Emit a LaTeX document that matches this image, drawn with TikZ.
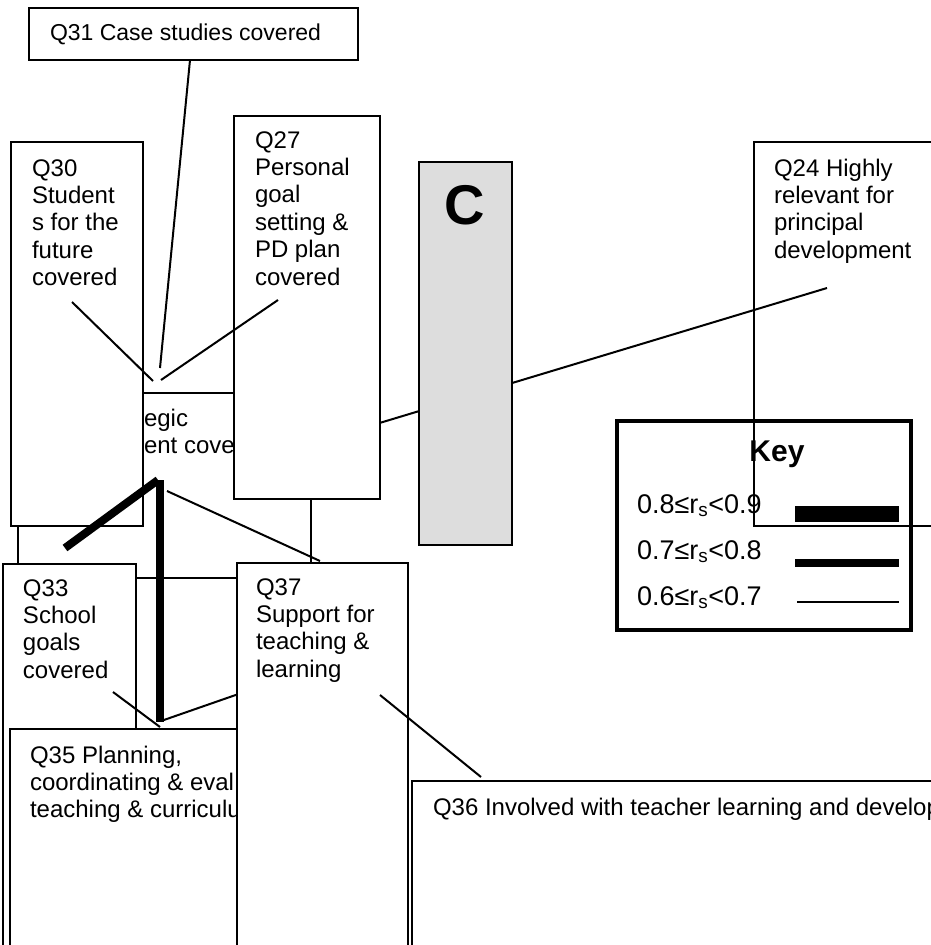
\documentclass[tikz,border=0pt]{standalone}
\usepackage{fontspec}
\setmainfont{Liberation Sans}
\definecolor{cfill}{HTML}{DDDDDD}
\newcommand\ml[1]{\begin{tabular}[t]{@{}l@{}}#1\end{tabular}}
\begin{document}
\begin{tikzpicture}[x=1pt,y=-1pt,
  box/.style={draw, line width=1.5pt, fill=white, inner sep=0pt, outer sep=0pt, anchor=north west},
  txt/.style={inner sep=0pt, outer sep=0pt, anchor=base west, font=\fontsize{24}{27.4}\selectfont},
  keytxt/.style={txt, font=\fontsize{27}{30}\selectfont},
  rthin/.style={line width=2pt},
  rmid/.style={line width=8pt},
  rthick/.style={line width=16pt}]
\useasboundingbox (0,0) rectangle (931,945);
\clip (0,0) rectangle (931,945);
% hidden strategic box
\node[box, minimum width=293pt, minimum height=185pt] (strat) at (18,393) {};
\node[txt] (strat1) at (144,426) {egic};
\node[txt] (strat2) at (144,453) {ent cove};
% line from strategic box to Q24 (hidden behind Q27 and C)
\coordinate (s24) at (300,447);
\coordinate (q24a) at (827,288);
\draw[rthin] (s24) -- (q24a);
% upper boxes
\node[box, minimum width=132pt, minimum height=384pt] (q30) at (11,142) {};
\node[txt] (q30t) at (32,176) {\ml{Q30\\Student\\s for the\\future\\covered}};
\node[box, minimum width=146pt, minimum height=383pt] (q27) at (234,116) {};
\node[txt] (q27t) at (255,148) {\ml{Q27\\Personal\\goal\\setting \&\\PD plan\\covered}};
\node[box, minimum width=329pt, minimum height=52pt] (q31) at (29,8) {};
\node[txt, font=\fontsize{23}{27}\selectfont] (q31t) at (50,40) {Q31 Case studies covered};
% C box
\node[box, fill=cfill, minimum width=93pt, minimum height=383pt] (cbox) at (419,162) {};
\node[inner sep=0pt, anchor=base, font=\fontsize{56}{62}\selectfont\bfseries] (ctext) at (465,224) {C};
% key
\node[box, line width=4pt, minimum width=294pt, minimum height=209pt] (key) at (617,421) {};
\node[inner sep=0pt, anchor=base, font=\fontsize{30}{34}\selectfont\bfseries] (keyt) at (777,461) {Key};
\node[keytxt] (k1) at (637,513) {0.8≤r\textsubscript{s}<0.9};
\node[keytxt] (k2) at (637,559) {0.7≤r\textsubscript{s}<0.8};
\node[keytxt] (k3) at (637,605) {0.6≤r\textsubscript{s}<0.7};
\coordinate (k1a) at (795,514); \coordinate (k1b) at (899,514);
\coordinate (k2a) at (795,563); \coordinate (k2b) at (899,563);
\coordinate (k3a) at (797,602); \coordinate (k3b) at (899,602);
\draw[rthick] (k1a) -- (k1b);
\draw[rmid] (k2a) -- (k2b);
\draw[rthin] (k3a) -- (k3b);
% Q24 (unfilled)
\node[box, fill=none, minimum width=220pt, minimum height=384pt] (q24) at (754,142) {};
\node[txt] (q24t) at (774,176) {\ml{Q24 Highly\\relevant for\\principal\\development}};
% connectors into the strategic box from above
\coordinate (q31a) at (190,60);  \coordinate (sa) at (160,368);
\coordinate (q30a) at (72,302);  \coordinate (sb) at (153,381);
\coordinate (q27a) at (278,300); \coordinate (sc) at (161,380);
\draw[rthin] (q31a) -- (sa);
\draw[rthin] (q30a) -- (sb);
\draw[rthin] (q27a) -- (sc);
% lower boxes
\node[box, minimum width=133pt, minimum height=420pt] (q33) at (3,564) {};
\node[txt] (q33t) at (23,596) {\ml{Q33\\School\\goals\\covered}};
\node[box, minimum width=260pt, minimum height=300pt] (q35) at (10,729) {};
\node[txt] (q35t) at (30,763) {\ml{Q35 Planning,\\coordinating \& eval\\teaching \& curriculu}};
\coordinate (q35c) at (161,721); \coordinate (q37b) at (250,690);
\draw[rthin] (q35c) -- (q37b);
\node[box, minimum width=171pt, minimum height=420pt] (q37) at (237,563) {};
\node[txt] (q37t) at (256,595) {\ml{Q37\\Support for\\teaching \&\\learning}};
\node[box, minimum width=560pt, minimum height=200pt] (q36) at (412,781) {};
\node[txt] (q36t) at (433,815) {Q36 Involved with teacher learning and develop};
% connectors from the strategic box downwards
\coordinate (sd) at (158,480); \coordinate (d1) at (65,548);
\coordinate (se) at (160,480); \coordinate (q35a) at (160,722);
\coordinate (sf) at (167,491); \coordinate (q37a) at (320,561);
\draw[rmid] (sd) -- (d1);
\draw[rmid] (se) -- (q35a);
\draw[rthin] (sf) -- (q37a);
\coordinate (q33a) at (113,692); \coordinate (q35b) at (160,727);
\draw[rthin] (q33a) -- (q35b);
\coordinate (q37c) at (380,695); \coordinate (q36a) at (481,777);
\draw[rthin] (q37c) -- (q36a);
\end{tikzpicture}
\end{document}
